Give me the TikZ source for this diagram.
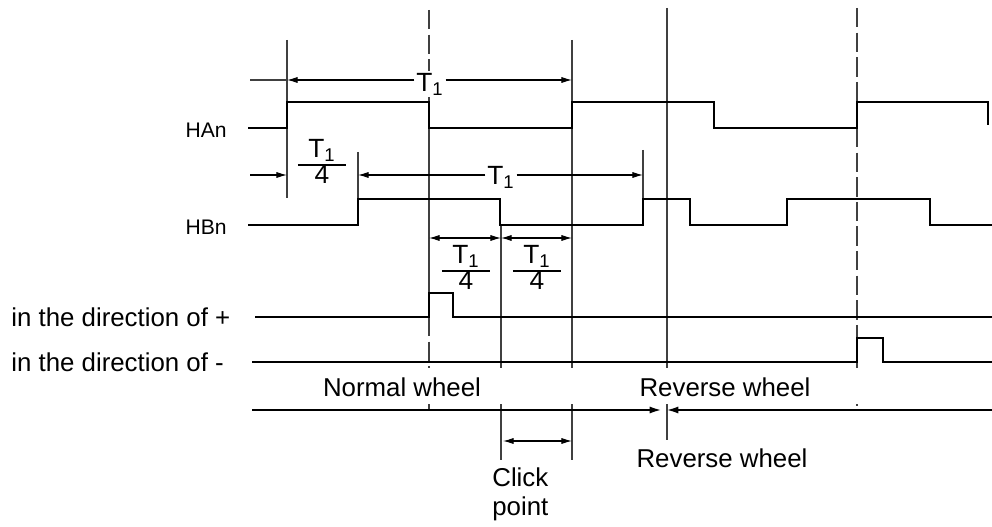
\documentclass[tikz,border=0pt]{standalone}
\usepackage{fontspec}
\setmainfont{Liberation Sans}
\usetikzlibrary{arrows.meta}
\setlength{\arrayrulewidth}{0.8pt}
\def\quarter{\renewcommand{\arraystretch}{0.8}\begin{tabular}{c}T\textsubscript{1}\\\hline 4\end{tabular}}
\tikzset{
	sig/.style={line width=1.3pt},
	guide/.style={line width=0.6pt, black!75},
	gdash/.style={line width=0.6pt, black!75, dash pattern=on 11pt off 3pt},
	dim/.style={line width=0.6pt, -{Latex[length=6pt,width=3.5pt]}},
	dimboth/.style={line width=0.6pt, {Latex[length=6pt,width=3.5pt]}-{Latex[length=6pt,width=3.5pt]}},
	lbl/.style={font=\fontsize{14.7}{17}\selectfont, inner sep=0pt},
	tlbl/.style={font=\fontsize{15}{16}\selectfont, inner sep=1pt, fill=white},
	sname/.style={font=\fontsize{12}{14}\selectfont, inner sep=0pt}
}

\begin{document}
\begin{tikzpicture}[x=0.02cm, y=-0.02cm]
		%%%%% START %%%%%
		\useasboundingbox (0,0) rectangle (992,527);
		
		% guide lines
		\draw[guide] (287,40) -- (287,198);
		\draw[guide] (358,152) -- (358,199);
		\draw[gdash] (429,10) -- (429,102);
		\draw[guide] (429,128) -- (429,293);
		\draw[gdash] (429,317) -- (429,410);
		\draw[guide] (501,225) -- (501,460);
		\draw[guide] (572,40) -- (572,460);
		\draw[guide] (643,150) -- (643,199);
		\draw[guide] (667,8) -- (667,440);
		\draw[gdash] (857,8) -- (857,102);
		\draw[gdash] (857,128) -- (857,338);
		\draw[gdash] (857,362) -- (857,410);
		
		% signals
		\draw[sig] (248,128) -- (287,128) -- (287,102) -- (429,102) -- (429,128) -- (572,128) -- (572,102) -- (714,102) -- (714,128) -- (857,128) -- (857,102) -- (988,102) -- (988,125);
		\draw[sig] (248,225) -- (358,225) -- (358,199) -- (500,199) -- (500,225) -- (643,225) -- (643,199) -- (690,199) -- (690,225) -- (787,225) -- (787,199) -- (930,199) -- (930,225) -- (992,225);
		\draw[sig] (255,317) -- (429,317) -- (429,293) -- (453,293) -- (453,317) -- (992,317);
		\draw[sig] (252,362) -- (857,362) -- (857,338) -- (883,338) -- (883,362) -- (992,362);
		
		% wheel line
		\draw[sig, -{Latex[length=7pt,width=4pt]}] (252,410) -- (662,410);
		\draw[sig, -{Latex[length=7pt,width=4pt]}] (992,410) -- (666,410);
		\fill[white] (250,368) rectangle (992,404);
		
		% T1 dimensions
		\node[tlbl] (tA) at (430,84) {T\textsubscript{1}};
		\draw[guide] (250,80) -- (287,80);
		\draw[dim] (tA.west |- 0,80) -- (287,80);
		\draw[dim] (tA.east |- 0,80) -- (572,80);
		
		\node[tlbl] (tB) at (501,177) {T\textsubscript{1}};
		\draw[dim] (250,175) -- (287,175);
		\draw[dim] (tB.west |- 0,175) -- (358,175);
		\draw[dim] (tB.east |- 0,175) -- (643,175);
		\node[tlbl, fill=none] (frA) at (322,165) {\quarter};
		
		\draw[dimboth] (429,238) -- (501,238);
		\draw[dimboth] (501,238) -- (572,238);
		\node[tlbl, fill=none] (frB) at (466,271) {\quarter};
		\node[tlbl, fill=none] (frC) at (537,271) {\quarter};
		
		\draw[dimboth] (503,441) -- (572,441);
		
		% labels
		\node[sname, anchor=east] (han) at (227,130) {HAn};
		\node[sname, anchor=east] (hbn) at (227,227) {HBn};
		\node[lbl, anchor=west] (plus) at (11,317) {in the direction of +};
		\node[lbl, anchor=west] (minus) at (11,362) {in the direction of -};
		\node[lbl] (norm) at (402,387) {Normal wheel};
		\node[lbl] (revA) at (725,387) {Reverse wheel};
		\node[lbl] (revB) at (722,458) {Reverse wheel};
		\node[lbl, anchor=north west, align=left] (click) at (492,467) {Click\\point};
		%%%%% END %%%%%
	\end{tikzpicture}
\end{document}
